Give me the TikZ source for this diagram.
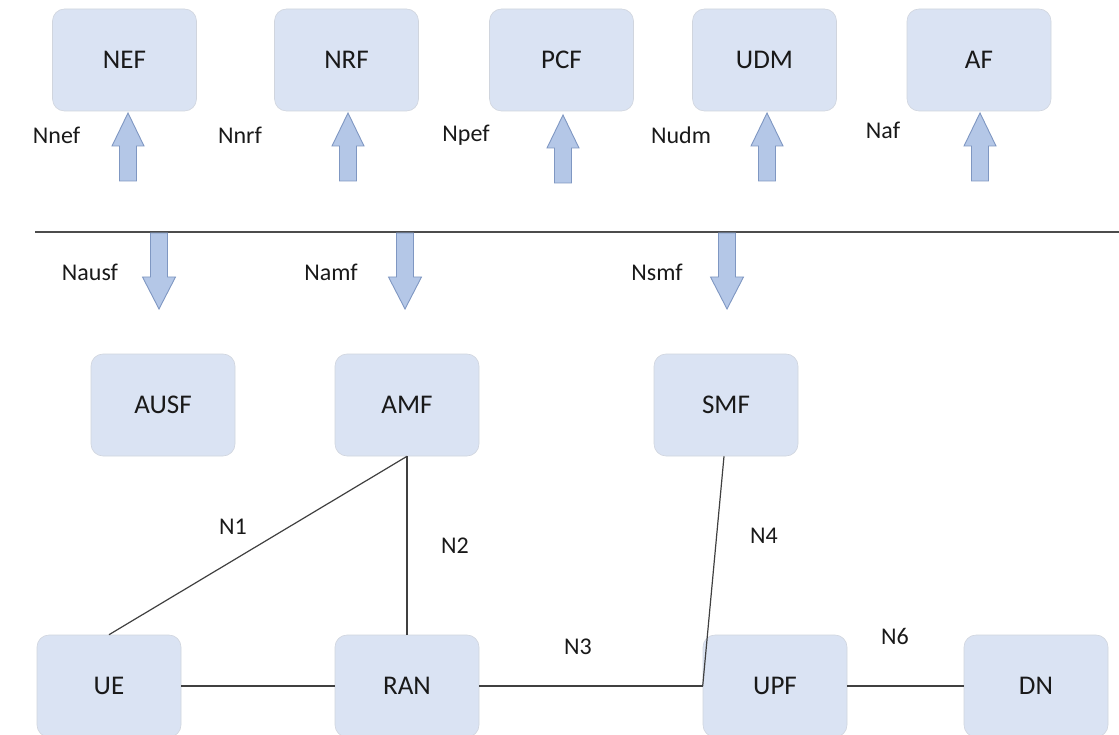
\documentclass[tikz,border=0pt]{standalone}
\usepackage{fontspec}
\setmainfont{Carlito}
\definecolor{boxfill}{HTML}{DAE3F3}
\definecolor{boxline}{HTML}{D0D5DE}
\definecolor{arrfill}{HTML}{B4C7E7}
\definecolor{arrline}{HTML}{7F97C2}
\definecolor{linkcol}{HTML}{404040}
\tikzset{
  nf/.style={draw=boxline, line width=0.6pt, fill=boxfill, rounded corners=12pt,
    minimum width=144pt, minimum height=102pt, inner sep=0pt, font=\fontsize{27}{31}\selectfont, text=black!90},
  lbl/.style={inner sep=0pt, font=\fontsize{24}{28}\selectfont, text=black!90},
  link/.style={draw=linkcol, line width=1.2pt},
  arrowstyle/.style={draw=arrline, fill=arrfill, line width=0.9pt, line join=miter},
  uparrow/.pic={\draw[arrowstyle] (-8.5,0) -- (-8.5,-35) -- (-16,-35) -- (0,-68) -- (16,-35) -- (8.5,-35) -- (8.5,0) -- cycle;},
  downarrow/.pic={\draw[arrowstyle] (-8.5,0) -- (-8.5,44) -- (-16.5,44) -- (0,76) -- (16.5,44) -- (8.5,44) -- (8.5,0) -- cycle;}
}
\begin{document}
\begin{tikzpicture}[x=1pt,y=-1pt]
\useasboundingbox (0,0) rectangle (1119,735);
% top row
\node[nf] (nef) at (124.5,60) {NEF};
\node[nf] (nrf) at (346.5,60) {NRF};
\node[nf] (pcf) at (561.5,60) {PCF};
\node[nf] (udm) at (764.5,60) {UDM};
\node[nf] (af)  at (979,60) {AF};
% up arrows
\pic at (128,181) {uparrow};
\pic at (348,181) {uparrow};
\pic at (563,183) {uparrow};
\pic at (767,181) {uparrow};
\pic at (980,181) {uparrow};
\node[lbl] (lnef) at (56.5,135) {Nnef};
\node[lbl] (lnrf) at (240,135) {Nnrf};
\node[lbl] (lpcf) at (466,135) {Npef};
\node[lbl] (ludm) at (681,135) {Nudm};
\node[lbl] (laf)  at (883,130) {Naf};
% divider
\coordinate (dl) at (35,232);
\coordinate (dr) at (1119,232);
\draw[draw=black!70, line width=1.3pt] (dl) -- (dr);
% down arrows
\pic at (159,233) {downarrow};
\pic at (405,233) {downarrow};
\pic at (727,233) {downarrow};
\node[lbl] (lausf) at (90,272) {Nausf};
\node[lbl] (lamf)  at (331,272) {Namf};
\node[lbl] (lsmf)  at (657,272) {Nsmf};
% middle row
\node[nf] (ausf) at (163,405) {AUSF};
\node[nf] (amf)  at (407,405) {AMF};
\node[nf] (smf)  at (726,405) {SMF};
% bottom row
\node[nf] (ue)  at (109,686) {UE};
\node[nf] (ran) at (407,686) {RAN};
\node[nf] (upf) at (775,686) {UPF};
\node[nf] (dn)  at (1036,686) {DN};
% links
\draw[link] (amf.south) -- (ue.north);
\draw[link] (amf.south) -- (ran.north);
\draw[link] ([xshift=-2pt]smf.south) -- (upf.west);
\draw[link] (ue.east) -- (ran.west);
\draw[link] (ran.east) -- (upf.west);
\draw[link] (upf.east) -- (dn.west);
% link labels
\node[lbl] (n1) at (233,527) {N1};
\node[lbl] (n2) at (455,546) {N2};
\node[lbl] (n4) at (764,536) {N4};
\node[lbl] (n3) at (578,647) {N3};
\node[lbl] (n6) at (895,636) {N6};
\end{tikzpicture}
\end{document}
